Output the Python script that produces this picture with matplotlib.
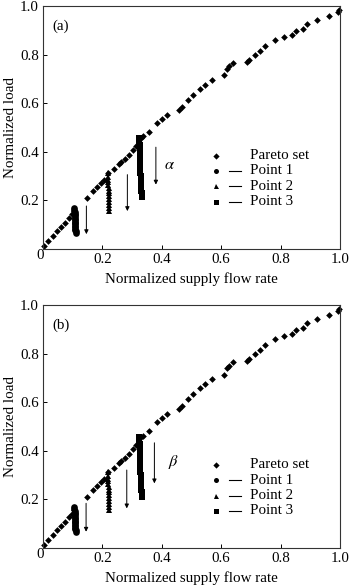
import numpy as np
import matplotlib
matplotlib.use('Agg')
import matplotlib.pyplot as plt

plt.rcParams['font.family'] = ['Liberation Serif', 'DejaVu Serif']
plt.rcParams['mathtext.fontset'] = 'stix'

# Pareto set (normalized supply flow rate, normalized load)
pareto_x = [0.004, 0.018, 0.034, 0.048, 0.060, 0.074, 0.088, 0.096, 0.104,
            0.147, 0.168, 0.182, 0.196, 0.205, 0.218, 0.240, 0.256, 0.264,
            0.275, 0.290, 0.302, 0.312, 0.322, 0.330, 0.338, 0.358, 0.383,
            0.400, 0.416, 0.458, 0.467, 0.489, 0.506, 0.529, 0.545, 0.568,
            0.610, 0.618, 0.626, 0.641, 0.686, 0.694, 0.714, 0.731, 0.747,
            0.781, 0.812, 0.837, 0.852, 0.877, 0.888, 0.924, 0.964, 0.992,
            0.998]
pareto_y = [0.013, 0.031, 0.054, 0.075, 0.090, 0.108, 0.128, 0.142, 0.155,
            0.210, 0.240, 0.254, 0.272, 0.283, 0.311, 0.330, 0.350, 0.358,
            0.370, 0.388, 0.407, 0.422, 0.440, 0.455, 0.463, 0.483, 0.520,
            0.537, 0.551, 0.571, 0.585, 0.612, 0.633, 0.660, 0.676, 0.694,
            0.714, 0.742, 0.751, 0.764, 0.769, 0.778, 0.800, 0.816, 0.837,
            0.861, 0.871, 0.882, 0.898, 0.905, 0.925, 0.941, 0.959, 0.976,
            0.982]

# Point 1 (circles)
p1_x = [0.106, 0.106, 0.107, 0.107, 0.107, 0.107, 0.108, 0.108, 0.108,
        0.108, 0.108, 0.109, 0.109, 0.109, 0.109, 0.110, 0.110]
p1_y = [0.167, 0.160, 0.153, 0.146, 0.139, 0.132, 0.125, 0.119, 0.113,
        0.107, 0.101, 0.095, 0.090, 0.084, 0.079, 0.073, 0.067]

# Point 2 (triangles)
p2_x = [0.219, 0.219, 0.220, 0.220, 0.220, 0.221, 0.221, 0.221, 0.222,
        0.222, 0.222, 0.223, 0.223, 0.223]
p2_y = [0.311, 0.298, 0.286, 0.274, 0.262, 0.251, 0.240, 0.229, 0.218,
        0.206, 0.194, 0.182, 0.168, 0.155]

# Point 3 (squares)
p3_x = [0.324, 0.324, 0.324, 0.325, 0.325, 0.325, 0.325, 0.326, 0.326,
        0.326, 0.326, 0.327, 0.327, 0.327, 0.328, 0.328, 0.328, 0.329,
        0.329, 0.329, 0.330, 0.330, 0.330, 0.331, 0.331, 0.332, 0.332,
        0.333]
p3_y = [0.455, 0.446, 0.437, 0.428, 0.419, 0.410, 0.401, 0.392, 0.383,
        0.374, 0.365, 0.356, 0.347, 0.338, 0.329, 0.320, 0.311, 0.302,
        0.293, 0.284, 0.275, 0.266, 0.257, 0.248, 0.239, 0.230, 0.221,
        0.212]

# arrows: x, y_start, y_end for each panel
arrow_x_a = [0.146, 0.284, 0.380]
arrow_y0_a = [0.177, 0.306, 0.419]
arrow_y1_a = [0.061, 0.156, 0.265]
arrow_x_b = [0.145, 0.282, 0.375]
arrow_y0_b = [0.184, 0.321, 0.433]
arrow_y1_b = [0.067, 0.163, 0.266]

legend_labels = ['Pareto set', 'Point 1', 'Point 2', 'Point 3']
legend_markers = ['D', 'o', '^', 's']

fig = plt.figure(figsize=(3.5, 5.87), dpi=100)
ax_a = fig.add_axes([0.1229, 0.5758, 0.8486, 0.4140])
ax_b = fig.add_axes([0.1229, 0.0664, 0.8486, 0.4140])

FS = 10.8


def draw_panel(ax, tag, greek, gxy, ax_x, ay0, ay1, leg_top):
    ax.plot(pareto_x, pareto_y, 'D', color='black', ms=3.4, mew=0, clip_on=False)
    ax.plot(p1_x, p1_y, 'o', color='black', ms=4.8, mew=0)
    ax.plot(p2_x, p2_y, '^', color='black', ms=4.6, mew=0)
    ax.plot(p3_x, p3_y, 's', color='black', ms=4.4, mew=0)

    for x, y0, y1 in zip(ax_x, ay0, ay1):
        ax.annotate('', xy=(x, y1), xytext=(x, y0),
                    arrowprops=dict(arrowstyle='-|>', color='black', lw=0.7,
                                    mutation_scale=6, shrinkA=0, shrinkB=0))
    ax.text(gxy[0], gxy[1], greek, fontsize=FS + 1, ha='left', va='center')

    ax.set_xlim(0, 1)
    ax.set_ylim(0, 1)
    ax.set_xticks([0.2, 0.4, 0.6, 0.8, 1.0])
    ax.set_xticklabels(['0.2', '0.4', '0.6', '0.8', '1.0'])
    ax.set_yticks([0.2, 0.4, 0.6, 0.8, 1.0])
    ax.set_yticklabels(['0.2', '0.4', '0.6', '0.8', '1.0'])
    ax.tick_params(direction='in', length=3, width=0.7, labelsize=FS, pad=3)
    ax.text(-0.01, -0.025, '0', transform=ax.transAxes, ha='center',
            va='center', fontsize=FS)
    for s in ax.spines.values():
        s.set_linewidth(0.8)
        s.set_color('#333333')
    ax.set_xlabel('Normalized supply flow rate', fontsize=FS, labelpad=4)
    ax.set_ylabel('Normalized load', fontsize=FS, labelpad=2)
    ax.text(0.03, 0.918, tag, transform=ax.transAxes, fontsize=FS,
            ha='left', va='center')

    # legend drawn by hand: marker, short line, label
    dy = 0.063
    for i, (lab, mk) in enumerate(zip(legend_labels, legend_markers)):
        yy = leg_top - i * dy
        ax.plot([0.583], [yy], mk, color='black', ms=3.6 if mk != 'D' else 3.2,
                mew=0, transform=ax.transAxes, clip_on=False)
        if i > 0:
            ax.plot([0.625, 0.667], [yy, yy], '-', color='black', lw=0.8,
                    transform=ax.transAxes)
        ax.text(0.697, yy, lab, transform=ax.transAxes, fontsize=FS,
                ha='left', va='center')


draw_panel(ax_a, '(a)', r'$\alpha$', (0.407, 0.345),
           arrow_x_a, arrow_y0_a, arrow_y1_a, 0.384)
draw_panel(ax_b, '(b)', r'$\beta$', (0.420, 0.352),
           arrow_x_b, arrow_y0_b, arrow_y1_b, 0.342)

fig.savefig('out.png', dpi=100)
